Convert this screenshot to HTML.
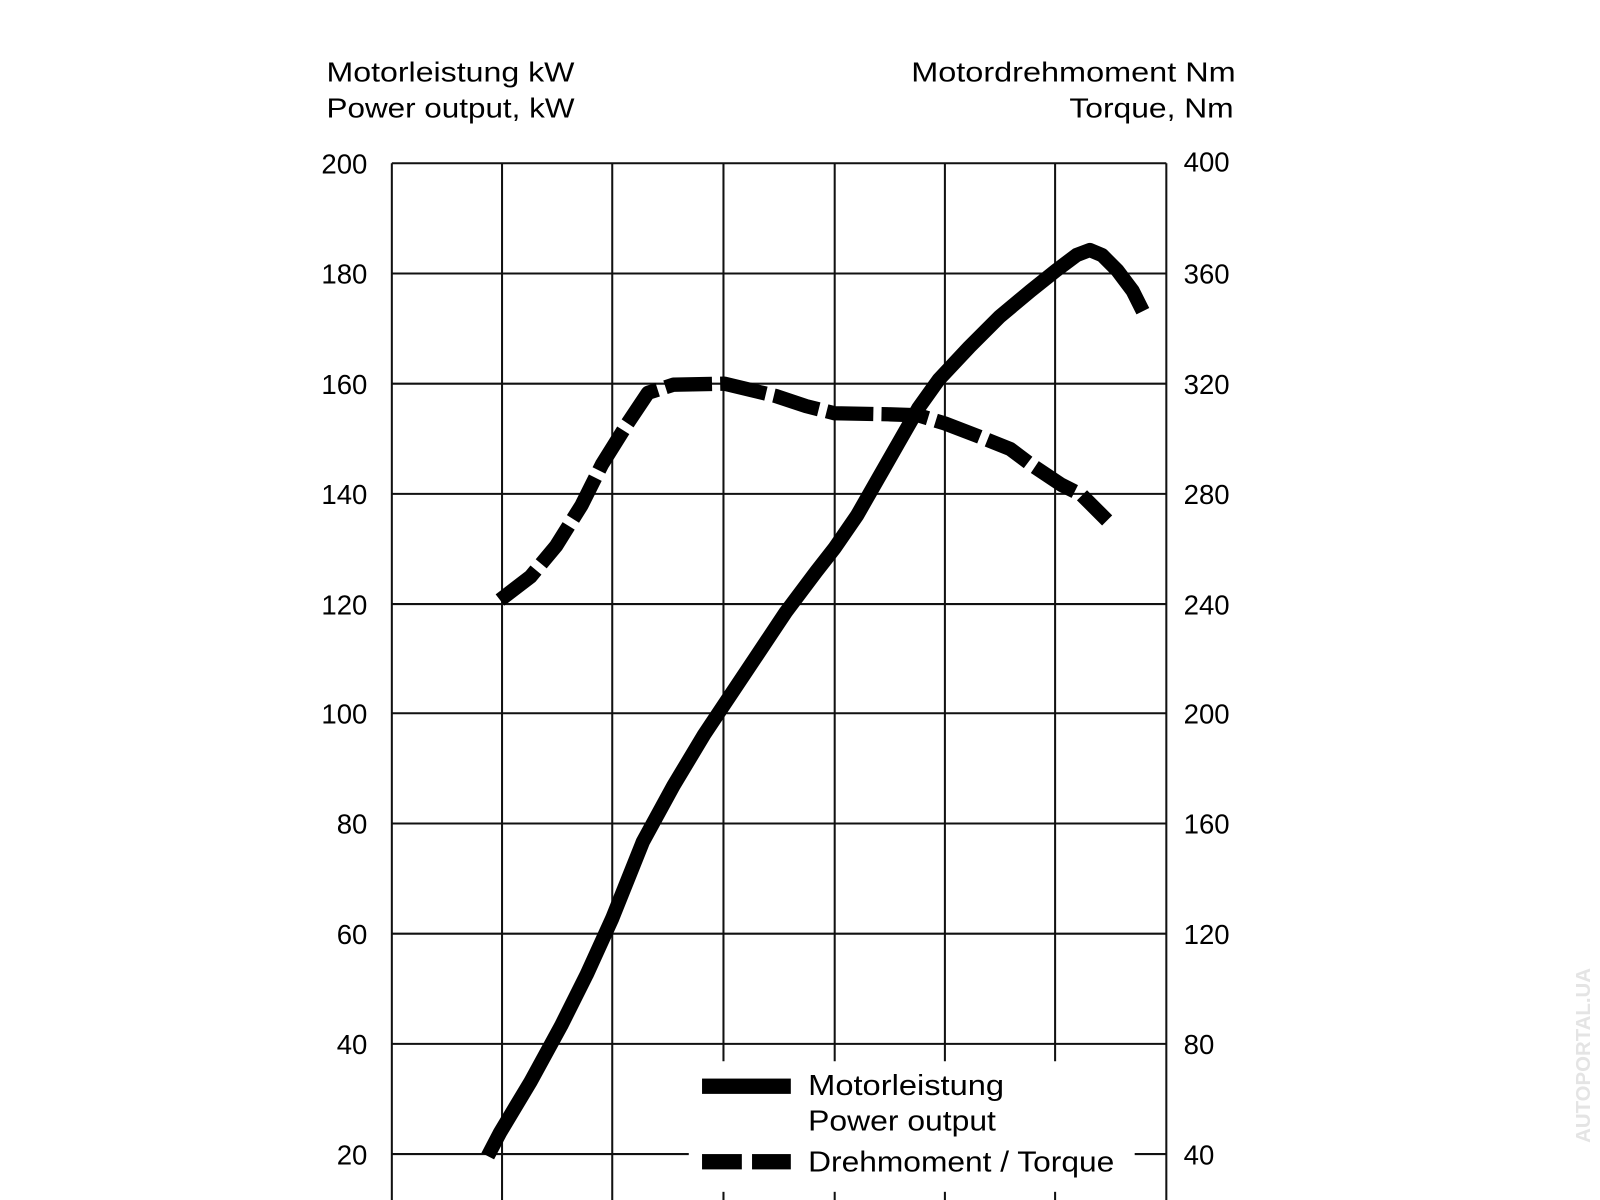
<!DOCTYPE html>
<html><head><meta charset="utf-8"><style>html,body{margin:0;padding:0;background:#fff}svg{display:block}</style></head>
<body>
<svg width="1600" height="1200" viewBox="0 0 1568 1176" xmlns="http://www.w3.org/2000/svg" font-family="Liberation Sans, sans-serif">
<rect width="1568" height="1176" fill="#fff"/>
<g stroke="#111" stroke-width="2" fill="none">
<line x1="384" y1="160" x2="384" y2="1176"/>
<line x1="492" y1="160" x2="492" y2="1176"/>
<line x1="600" y1="160" x2="600" y2="1176"/>
<line x1="1143" y1="160" x2="1143" y2="1176"/>
<line x1="709" y1="160" x2="709" y2="1040"/><line x1="709" y1="1168" x2="709" y2="1176"/>
<line x1="818" y1="160" x2="818" y2="1040"/><line x1="818" y1="1168" x2="818" y2="1176"/>
<line x1="926" y1="160" x2="926" y2="1040"/><line x1="926" y1="1168" x2="926" y2="1176"/>
<line x1="1034" y1="160" x2="1034" y2="1040"/><line x1="1034" y1="1168" x2="1034" y2="1176"/>
<line x1="384" y1="160" x2="1143" y2="160"/>
<line x1="384" y1="268" x2="1143" y2="268"/>
<line x1="384" y1="376" x2="1143" y2="376"/>
<line x1="384" y1="484" x2="1143" y2="484"/>
<line x1="384" y1="592" x2="1143" y2="592"/>
<line x1="384" y1="699" x2="1143" y2="699"/>
<line x1="384" y1="807" x2="1143" y2="807"/>
<line x1="384" y1="915" x2="1143" y2="915"/>
<line x1="384" y1="1023" x2="1143" y2="1023"/>
<line x1="384" y1="1131" x2="675" y2="1131"/><line x1="1112" y1="1131" x2="1143" y2="1131"/>
</g>
<g font-size="27" fill="#000">
<text x="320" y="80" textLength="243" lengthAdjust="spacingAndGlyphs">Motorleistung kW</text>
<text x="320" y="115" textLength="243" lengthAdjust="spacingAndGlyphs">Power output, kW</text>
<text x="893" y="80" textLength="318" lengthAdjust="spacingAndGlyphs">Motordrehmoment Nm</text>
<text x="1048" y="115" textLength="161" lengthAdjust="spacingAndGlyphs">Torque, Nm</text>
</g>
<g font-size="27" fill="#000" text-anchor="end">
<text x="360" y="170">200</text><text x="360" y="278">180</text><text x="360" y="386">160</text><text x="360" y="494">140</text><text x="360" y="602">120</text><text x="360" y="709">100</text><text x="360" y="817">80</text><text x="360" y="925">60</text><text x="360" y="1033">40</text><text x="360" y="1141">20</text>
</g>
<g font-size="27" fill="#000">
<text x="1160" y="168">400</text><text x="1160" y="278">360</text><text x="1160" y="386">320</text><text x="1160" y="494">280</text><text x="1160" y="602">240</text><text x="1160" y="709">200</text><text x="1160" y="817">160</text><text x="1160" y="925">120</text><text x="1160" y="1033">80</text><text x="1160" y="1141">40</text>
</g>
<path d="M478,1133 L490,1110 L520,1060 L550,1005 L575,955 L600,900 L612,870 L630,825 L660,770 L690,720 L710,690 L740,645 L770,600 L800,560 L818,537 L840,505 L860,470 L880,435 L900,400 L920,372 L950,340 L980,310 L1010,285 L1035,265 L1055,250 L1068,245 L1080,250 L1095,265 L1110,285 L1120,305" fill="none" stroke="#000" stroke-width="14" stroke-linejoin="round"/>
<path d="M490,588 L520,565 L545,535 L570,495 L590,455 L615,415 L635,385 L660,377 L710,376 L760,388 L790,398 L818,405 L870,406 L900,407 L926,415 L960,428 L990,440 L1010,455 L1040,475 L1060,485 L1085,510" fill="none" stroke="#000" stroke-width="14" stroke-dasharray="46,8" stroke-linejoin="round"/>
<rect x="688" y="1057" width="87" height="15" fill="#000"/>
<rect x="688" y="1131" width="39" height="15" fill="#000"/>
<rect x="737" y="1131" width="38" height="15" fill="#000"/>
<g font-size="28" fill="#000">
<text x="792" y="1073" textLength="192" lengthAdjust="spacingAndGlyphs">Motorleistung</text>
<text x="792" y="1108" textLength="184" lengthAdjust="spacingAndGlyphs">Power output</text>
<text x="792" y="1148" textLength="300" lengthAdjust="spacingAndGlyphs">Drehmoment / Torque</text>
</g>
<text x="1558" y="1120" font-size="20" font-weight="bold" fill="#e4e4e4" transform="rotate(-90 1558 1120)">AUTOPORTAL.UA</text>
</svg>
</body></html>
